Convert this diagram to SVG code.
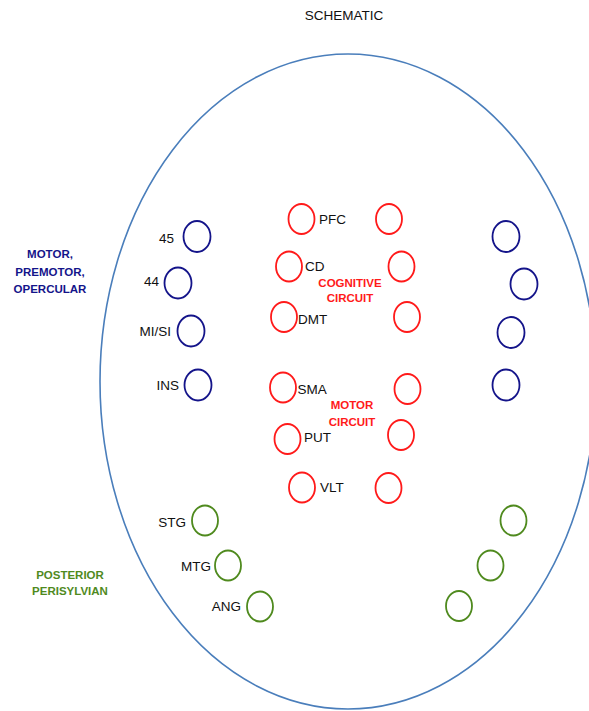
<svg xmlns="http://www.w3.org/2000/svg" width="589" height="711" viewBox="0 0 589 711">
  <style>
    .lbl { font-family: "Liberation Sans", Arial, sans-serif; font-size: 13.5px; fill: #111; }
    .grp { font-family: "Liberation Sans", Arial, sans-serif; font-size: 11.5px; font-weight: bold; text-anchor: middle; }
    .navy { stroke: #14148a; fill: none; stroke-width: 1.8; }
    .red { stroke: #ff1a1a; fill: none; stroke-width: 1.8; }
    .green { stroke: #4f8a1e; fill: none; stroke-width: 1.8; }
    .end { text-anchor: end; }
  </style>
  <rect width="589" height="711" fill="#ffffff"/>

  <text class="lbl" x="344" y="20" text-anchor="middle">SCHEMATIC</text>

  <!-- outline of the brain -->
  <ellipse id="outline" cx="348" cy="381.5" rx="248" ry="327.5" fill="none" stroke="#4a7ebb" stroke-width="1.6"/>

  <!-- region captions -->
  <g id="caption-motor" class="grp" fill="#14148a">
    <text x="50" y="258">MOTOR,</text>
    <text x="50" y="276">PREMOTOR,</text>
    <text x="50" y="293">OPERCULAR</text>
  </g>
  <g id="caption-posterior" class="grp" fill="#4f8a1e">
    <text x="70" y="579">POSTERIOR</text>
    <text x="70" y="595">PERISYLVIAN</text>
  </g>
  <g id="caption-cognitive" class="grp" fill="#ff1a1a">
    <text x="350" y="287">COGNITIVE</text>
    <text x="350" y="302">CIRCUIT</text>
  </g>
  <g id="caption-motor-circuit" class="grp" fill="#ff1a1a">
    <text x="352" y="409">MOTOR</text>
    <text x="352" y="426">CIRCUIT</text>
  </g>

  <!-- motor / premotor / opercular nodes -->
  <g id="n45"><ellipse class="navy" cx="197" cy="236.5" rx="13.5" ry="15.5"/><text class="lbl end" x="174" y="243">45</text></g>
  <g id="n44"><ellipse class="navy" cx="178" cy="283" rx="13.5" ry="15.5"/><text class="lbl end" x="159" y="286">44</text></g>
  <g id="nMISI"><ellipse class="navy" cx="191" cy="331" rx="13.5" ry="15.5"/><text class="lbl end" x="171" y="336">MI/SI</text></g>
  <g id="nINS"><ellipse class="navy" cx="198" cy="385" rx="13.5" ry="15.5"/><text class="lbl end" x="179" y="390">INS</text></g>
  <g id="n45R"><ellipse class="navy" cx="506" cy="236.5" rx="13.5" ry="15.5"/></g>
  <g id="n44R"><ellipse class="navy" cx="524" cy="284" rx="13.5" ry="15.5"/></g>
  <g id="nMISIR"><ellipse class="navy" cx="511" cy="332.5" rx="13.5" ry="15.5"/></g>
  <g id="nINSR"><ellipse class="navy" cx="506" cy="385" rx="13.5" ry="15.5"/></g>

  <!-- cognitive circuit nodes -->
  <g id="nPFC"><ellipse class="red" cx="301.5" cy="219" rx="13" ry="15"/><text class="lbl" x="319" y="224">PFC</text></g>
  <g id="nCD"><ellipse class="red" cx="289" cy="266.5" rx="13" ry="15"/><text class="lbl" x="305" y="271">CD</text></g>
  <g id="nDMT"><ellipse class="red" cx="284" cy="317" rx="13" ry="15"/><text class="lbl" x="298" y="324">DMT</text></g>
  <g id="nPFCR"><ellipse class="red" cx="389" cy="219" rx="13" ry="15"/></g>
  <g id="nCDR"><ellipse class="red" cx="401.5" cy="266.5" rx="13" ry="15"/></g>
  <g id="nDMTR"><ellipse class="red" cx="407" cy="317" rx="13" ry="15"/></g>

  <!-- motor circuit nodes -->
  <g id="nSMA"><ellipse class="red" cx="283" cy="387.5" rx="13" ry="15"/><text class="lbl" x="297.5" y="394">SMA</text></g>
  <g id="nPUT"><ellipse class="red" cx="287.5" cy="439" rx="13" ry="15"/><text class="lbl" x="304" y="442">PUT</text></g>
  <g id="nVLT"><ellipse class="red" cx="302" cy="487.5" rx="13" ry="15"/><text class="lbl" x="320" y="492">VLT</text></g>
  <g id="nSMAR"><ellipse class="red" cx="407.5" cy="389" rx="13" ry="15"/></g>
  <g id="nPUTR"><ellipse class="red" cx="401" cy="435" rx="13" ry="15"/></g>
  <g id="nVLTR"><ellipse class="red" cx="388.5" cy="488" rx="13" ry="15"/></g>

  <!-- posterior perisylvian nodes -->
  <g id="nSTG"><ellipse class="green" cx="205" cy="520.5" rx="13" ry="15"/><text class="lbl end" x="186" y="527">STG</text></g>
  <g id="nMTG"><ellipse class="green" cx="228" cy="565.5" rx="13" ry="15"/><text class="lbl end" x="211" y="571">MTG</text></g>
  <g id="nANG"><ellipse class="green" cx="260" cy="606.5" rx="13" ry="15"/><text class="lbl end" x="241" y="611">ANG</text></g>
  <g id="nSTGR"><ellipse class="green" cx="513.5" cy="520.5" rx="13" ry="15"/></g>
  <g id="nMTGR"><ellipse class="green" cx="490.5" cy="565.5" rx="13" ry="15"/></g>
  <g id="nANGR"><ellipse class="green" cx="459" cy="606" rx="13" ry="15"/></g>

  <!-- no connectors in this schematic -->
  <g id="connectors"/>
</svg>
